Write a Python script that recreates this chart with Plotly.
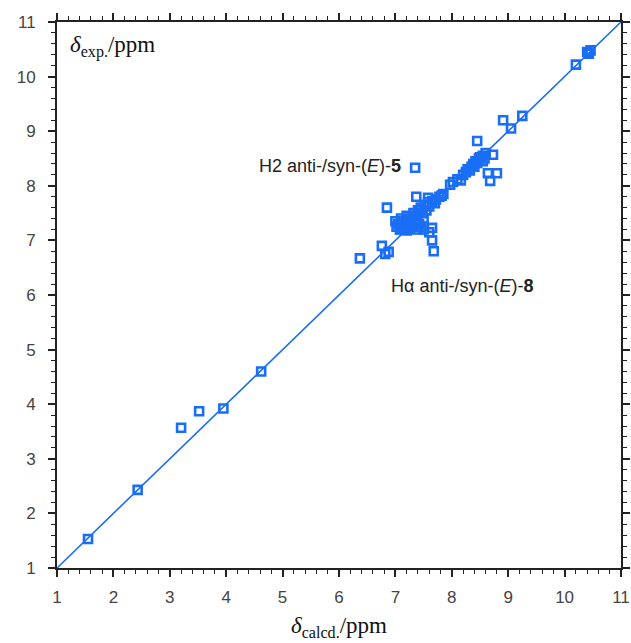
import plotly.graph_objects as go

# Calculated vs experimental chemical shifts (ppm)
calcd = [1.55, 2.43, 3.20, 3.52, 3.95, 4.62, 6.37, 6.76, 6.82, 6.88, 6.85, 7.35,
         7.00, 7.02, 7.05, 7.08, 7.10, 7.12, 7.15, 7.18, 7.20, 7.22, 7.25, 7.28,
         7.30, 7.32, 7.35, 7.38, 7.40, 7.40, 7.42, 7.45, 7.48, 7.50, 7.52, 7.55,
         7.58, 7.60, 7.65, 7.70, 7.72, 7.78, 7.82, 7.85, 7.37, 7.58, 7.10, 7.20,
         7.50, 7.45, 7.60, 7.65, 7.65, 7.68,
         7.97, 8.02, 8.10, 8.16, 8.20, 8.25, 8.28, 8.32, 8.35, 8.38, 8.42, 8.45,
         8.48, 8.50, 8.55, 8.58, 8.60, 8.55, 8.40, 8.45, 8.73, 8.64, 8.80, 8.68,
         8.91, 9.05, 9.25, 10.20, 10.40, 10.43, 10.46]
exp_ = [1.53, 2.43, 3.57, 3.87, 3.92, 4.60, 6.67, 6.90, 6.75, 6.79, 7.60, 8.33,
        7.35, 7.25, 7.30, 7.20, 7.40, 7.28, 7.22, 7.35, 7.45, 7.20, 7.30, 7.40,
        7.25, 7.50, 7.35, 7.45, 7.55, 7.20, 7.30, 7.60, 7.50, 7.40, 7.65, 7.55,
        7.70, 7.62, 7.72, 7.68, 7.75, 7.80, 7.82, 7.85, 7.80, 7.78, 7.20, 7.18,
        7.20, 7.25, 7.15, 7.23, 7.00, 6.80,
        8.02, 8.07, 8.12, 8.10, 8.20, 8.25, 8.30, 8.28, 8.35, 8.40, 8.45, 8.42,
        8.50, 8.52, 8.55, 8.50, 8.60, 8.45, 8.35, 8.82, 8.57, 8.23, 8.23, 8.09,
        9.20, 9.05, 9.28, 10.22, 10.45, 10.42, 10.48]

line_x = [1, 11]
line_y = [1, 11]

major_ticks = list(range(1, 12))
tick_labels = [str(v) for v in major_ticks]

blue = "#1a6ef5"

fig = go.Figure()
fig.add_trace(go.Scatter(x=line_x, y=line_y, mode="lines",
                         line=dict(color=blue, width=1.6), hoverinfo="skip"))
fig.add_trace(go.Scatter(x=calcd, y=exp_, mode="markers",
                         marker=dict(symbol="square-open", size=8, color=blue,
                                     line=dict(color=blue, width=2.6))))

axis_common = dict(
    range=[1, 11], tickmode="array", tickvals=major_ticks, ticktext=tick_labels,
    showgrid=False, zeroline=False, showline=True, linecolor="#222", linewidth=1.8,
    mirror="ticks", ticks="outside", ticklen=7, tickwidth=1.5, tickcolor="#222",
    tickfont=dict(family="Liberation Sans, Arial", size=17, color="#444"),
    minor=dict(dtick=0.2, ticks="outside", ticklen=4, tickwidth=1.2, tickcolor="#222", showgrid=False),
    automargin=False,
)
fig.update_xaxes(**axis_common, ticklabelstandoff=6)
fig.update_yaxes(**axis_common, ticklabelstandoff=9)

fig.add_annotation(x=0.02, y=0.985, xref="paper", yref="paper", xanchor="left", yanchor="top",
                   text="<i>δ</i><sub>exp.</sub>/ppm", showarrow=False,
                   font=dict(family="Liberation Serif, Times New Roman", size=23, color="#111"))
fig.add_annotation(x=0.5, y=-0.108, xref="paper", yref="paper", xanchor="center", yanchor="middle",
                   text="<i>δ</i><sub>calcd.</sub>/ppm", showarrow=False,
                   font=dict(family="Liberation Serif, Times New Roman", size=23, color="#111"))
fig.add_annotation(x=7.13, y=8.36, xanchor="right", yanchor="middle",
                   text="H2 anti-/syn-(<i>E</i>)-<b>5</b>", showarrow=False,
                   font=dict(family="Liberation Sans, Arial", size=18, color="#222"))
fig.add_annotation(x=6.88, y=6.17, xanchor="left", yanchor="middle",
                   text="Hα anti-/syn-(<i>E</i>)-<b>8</b>", showarrow=False,
                   font=dict(family="Liberation Sans, Arial", size=18, color="#222"))

fig.update_layout(width=631, height=643, showlegend=False,
                  margin=dict(l=57, r=10, t=22, b=75),
                  plot_bgcolor="white", paper_bgcolor="white")

fig.write_html("out.html", config={"displayModeBar": False},
               post_script="document.body.style.margin='0px';document.body.style.overflow='hidden';")
